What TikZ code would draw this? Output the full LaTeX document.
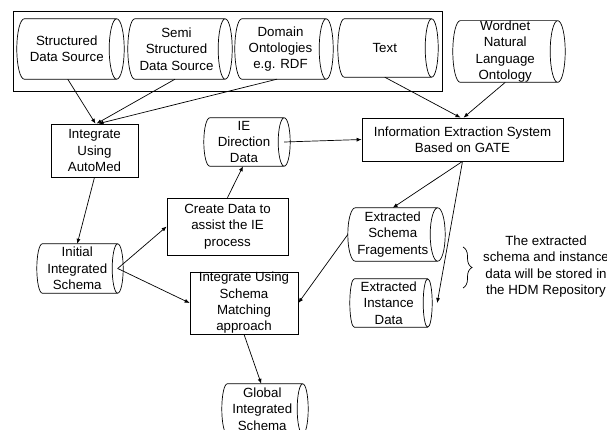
\documentclass[tikz,border=0pt]{standalone}
\usepackage{fontspec}
\setmainfont{Liberation Sans}
\usetikzlibrary{arrows.meta,calc,decorations.pathreplacing}
% node covers the body of the cylinder, from its left end to the centre of its right face
\newcommand\drawcyl[2][7]{%
  \draw[line width=0.7pt] let \p1=(#2.north west), \p2=(#2.south east), \n1={0.5*(\y1-\y2)} in
    (\x1+#1pt,\y1) arc[start angle=90,end angle=270,x radius=#1pt,y radius=\n1]
    -- (\x2,\y2)
    (\x1+#1pt,\y1) -- (\x2,\y1)
    (\x2,{0.5*(\y1+\y2)}) ellipse[x radius=#1pt,y radius=\n1];%
}
\begin{document}
\begin{tikzpicture}[x=1pt,y=-1pt,
  every node/.style={font=\fontsize{13.3}{16.3}\selectfont, align=center, inner sep=0pt},
  procbox/.style={draw, line width=0.7pt},
  conn/.style={line width=0.7pt, -{Latex[length=5pt,width=4pt]}}]
\useasboundingbox (0,0) rectangle (607,430);
% group frame
\node[draw, line width=0.7pt, minimum width=429pt, minimum height=80pt] (grp) at (227.5,51) {};
% cylinders
\node[minimum width=99.5pt, minimum height=60pt] (sds) at (66.75,49) {Structured\\Data Source};
\node[minimum width=97pt, minimum height=60pt] (ssds) at (176.5,49) {Semi\\Structured\\Data Source};
\node[minimum width=91pt, minimum height=60pt] (dom) at (280.5,49) {Domain\\Ontologies\\e.g. RDF};
\node[minimum width=93.5pt, minimum height=58pt] (txt) at (384.75,48) {Text};
\node[minimum width=104.5pt, minimum height=61pt] (wn) at (505.25,51.5) {Wordnet\\Natural\\Language\\Ontology};
\node[minimum width=80pt, minimum height=48pt] (iedir) at (244,142) {IE\\Direction\\Data};
\node[minimum width=80.5pt, minimum height=49pt] (init) at (77.25,268.5) {Initial\\Integrated\\Schema};
\node[minimum width=89.5pt, minimum height=53pt] (esf) at (392.75,234.5) {Extracted\\Schema\\Fragements};
\node[minimum width=77.5pt, minimum height=48pt] (eid) at (388.75,303) {Extracted\\Instance\\Data};
\node[minimum width=80.5pt, minimum height=50pt] (glob) at (262.25,409) {Global\\Integrated\\Schema};
\drawcyl[7.5]{sds}
\drawcyl[7]{ssds}
\drawcyl[7]{dom}
\drawcyl[6.5]{txt}
\drawcyl[7.5]{wn}
\drawcyl[6]{iedir}
\drawcyl[5.5]{init}
\drawcyl[7.5]{esf}
\drawcyl[4.5]{eid}
\drawcyl[5.5]{glob}
% boxes
\node[procbox, minimum width=87pt, minimum height=53pt] (automed) at (94.5,150.5) {Integrate\\Using\\AutoMed};
\node[procbox, minimum width=201pt, minimum height=43pt] (ies) at (462.5,139.5) {Information Extraction System\\Based on GATE};
\node[procbox, minimum width=121pt, minimum height=57pt] (create) at (227.5,226.5) {Create Data to\\assist the IE\\process};
\node[procbox, minimum width=108pt, minimum height=62pt] (match) at (244,303) {Integrate Using\\Schema\\Matching\\approach};
% note
\node (note) at (546,266.5) {The extracted\\schema and instance\\data will be stored in\\the HDM Repository};
\draw[line width=0.7pt, decorate, decoration={brace, amplitude=9pt}] (463,247) -- (463,288);
% connectors
\draw[conn] ([xshift=1pt]sds.south) -- ([xshift=1pt]automed.north);
\draw[conn] ([xshift=-1.5pt]ssds.south) -- ([xshift=2pt]automed.north);
\draw[conn] ([xshift=-3.5pt]dom.south) -- ([xshift=4pt]automed.north);
\draw[conn] (txt.south) -- ([xshift=-2pt]ies.north);
\draw[conn] (wn.south) -- ([xshift=1pt]ies.north);
\draw[conn] (iedir.east) -- (ies.west);
\draw[conn] (automed.south) -- (init.north);
\draw[conn] (init.east) -- (create.west);
\draw[conn] (init.east) -- (match.west);
\draw[conn] (create.north) -- ([xshift=-1pt]iedir.south);
\draw[conn] (ies.south) -- (esf.north);
\draw[conn] (ies.south) -- ([xshift=9.5pt]eid.east);
\draw[conn] (esf.west) -- (match.east);
\draw[conn] (match.south) -- ([xshift=-1pt]glob.north);
\end{tikzpicture}
\end{document}
